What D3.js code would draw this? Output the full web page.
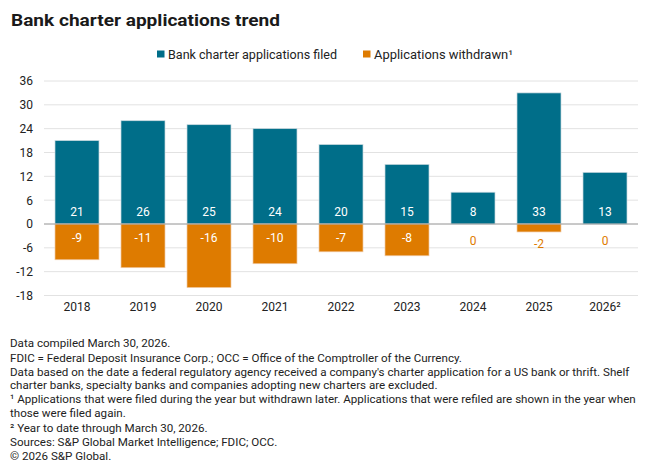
<!DOCTYPE html>
<html><head><meta charset="utf-8">
<script src="https://cdn.jsdelivr.net/npm/d3@7"></script>
<style>
body{margin:0;background:#fff;}
text{font-family:Roboto,"Liberation Sans",sans-serif;}
</style></head>
<body>
<svg id="c" width="660" height="475"></svg>
<script>
const categories = ["2018","2019","2020","2021","2022","2023","2024","2025","2026²"];
const filed = [21,26,25,24,20,15,8,33,13];
const withdrawn = [-9,-11,-16,-10,-7,-8,0,-2,0];
const yTicks = [36,30,24,18,12,6,0,-6,-12,-18];
const seriesNames = ["Bank charter applications filed","Applications withdrawn¹"];
const footnotes = [
 "Data compiled March 30, 2026.",
 "FDIC = Federal Deposit Insurance Corp.; OCC = Office of the Comptroller of the Currency.",
 "Data based on the date a federal regulatory agency received a company's charter application for a US bank or thrift. Shelf",
 "charter banks, specialty banks and companies adopting new charters are excluded.",
 "¹ Applications that were filed during the year but withdrawn later. Applications that were refiled are shown in the year when",
 "those were filed again.",
 "² Year to date through March 30, 2026.",
 "Sources: S&P Global Market Intelligence; FDIC; OCC.",
 "© 2026 S&P Global."
];
const footY = [347,362,376,389,403,417,432,446,460];

const teal="#006e89", orange="#de7b00";
const svg=d3.select("#c");
svg.append("text").attr("x",11).attr("y",26).attr("font-size",17).attr("font-weight",700).attr("fill","#1a1a1a")
 .attr("textLength",269).attr("lengthAdjust","spacingAndGlyphs").text("Bank charter applications trend");

// legend
const lg=[{x:157,c:teal,t:seriesNames[0],w:169},{x:363,c:orange,t:seriesNames[1],w:139}];
lg.forEach(d=>{
 svg.append("rect").attr("x",d.x).attr("y",50.5).attr("width",7.5).attr("height",7).attr("fill",d.c);
 svg.append("text").attr("x",d.x+11).attr("y",58.5).attr("font-size",12.5).attr("fill","#222")
  .attr("textLength",d.w).attr("lengthAdjust","spacingAndGlyphs").text(d.t);
});

const x=d3.scaleBand().domain(categories).range([44,638]).paddingInner(1/3).paddingOuter(1/6);
const y=d3.scaleLinear().domain([-18,36]).range([295.5,81]);

const g=svg.append("g");
g.selectAll("line.grid").data(yTicks).join("line")
 .attr("x1",44).attr("x2",638).attr("y1",d=>y(d)).attr("y2",d=>y(d))
 .attr("stroke","#e2e2e2").attr("stroke-width",1);

const yAxis=d3.axisLeft(y).tickValues(yTicks).tickSize(0).tickPadding(0).tickFormat(d=>d<0?"-"+Math.abs(d):d);
const ya=svg.append("g").attr("transform","translate(33,0)").call(yAxis);
ya.select(".domain").remove();
ya.selectAll("text").attr("font-size",12).attr("fill","#222").attr("font-family","Roboto,sans-serif");

g.selectAll("rect.f").data(filed).join("rect")
 .attr("x",(d,i)=>x(categories[i])).attr("width",x.bandwidth())
 .attr("y",d=>y(d)).attr("height",d=>y(0)-y(d))
 .attr("fill",teal).attr("stroke","#c9d9df").attr("stroke-width",0.7);
g.selectAll("rect.w").data(withdrawn).join("rect")
 .attr("x",(d,i)=>x(categories[i])).attr("width",x.bandwidth())
 .attr("y",y(0)).attr("height",d=>y(d)-y(0))
 .attr("fill",orange).attr("stroke",d=>d<0?"#f0c9a4":"none").attr("stroke-width",0.7);

svg.append("line").attr("x1",44).attr("x2",638).attr("y1",y(0)).attr("y2",y(0)).attr("stroke","#a0a0a0").attr("stroke-width",1);

g.selectAll("text.fl").data(filed).join("text")
 .attr("x",(d,i)=>x(categories[i])+x.bandwidth()/2).attr("y",y(0)-8)
 .attr("text-anchor","middle").attr("font-size",12).attr("fill","#fff").text(d=>d);
g.selectAll("text.wl").data(withdrawn).join("text")
 .attr("x",(d,i)=>x(categories[i])+x.bandwidth()/2)
 .attr("y",d=>d===0?y(0)+21:(y(d)-y(0)<20?y(d)+16:y(0)+18))
 .attr("text-anchor","middle").attr("font-size",12)
 .attr("fill",d=>(d===0||y(d)-y(0)<20)?orange:"#fff")
 .text(d=>d<0?"-"+Math.abs(d):d);

const xa=svg.append("g").attr("transform","translate(0,300)").call(d3.axisBottom(x).tickSize(0).tickPadding(0));
xa.select(".domain").remove();
xa.selectAll("text").attr("font-size",12).attr("fill","#222").attr("dy","0.9em").attr("font-family","Roboto,sans-serif");

footnotes.forEach((t,i)=>{
 svg.append("text").attr("x",10).attr("y",footY[i]).attr("font-size",11.6).attr("fill","#222").text(t);
});
</script>
</body></html>
